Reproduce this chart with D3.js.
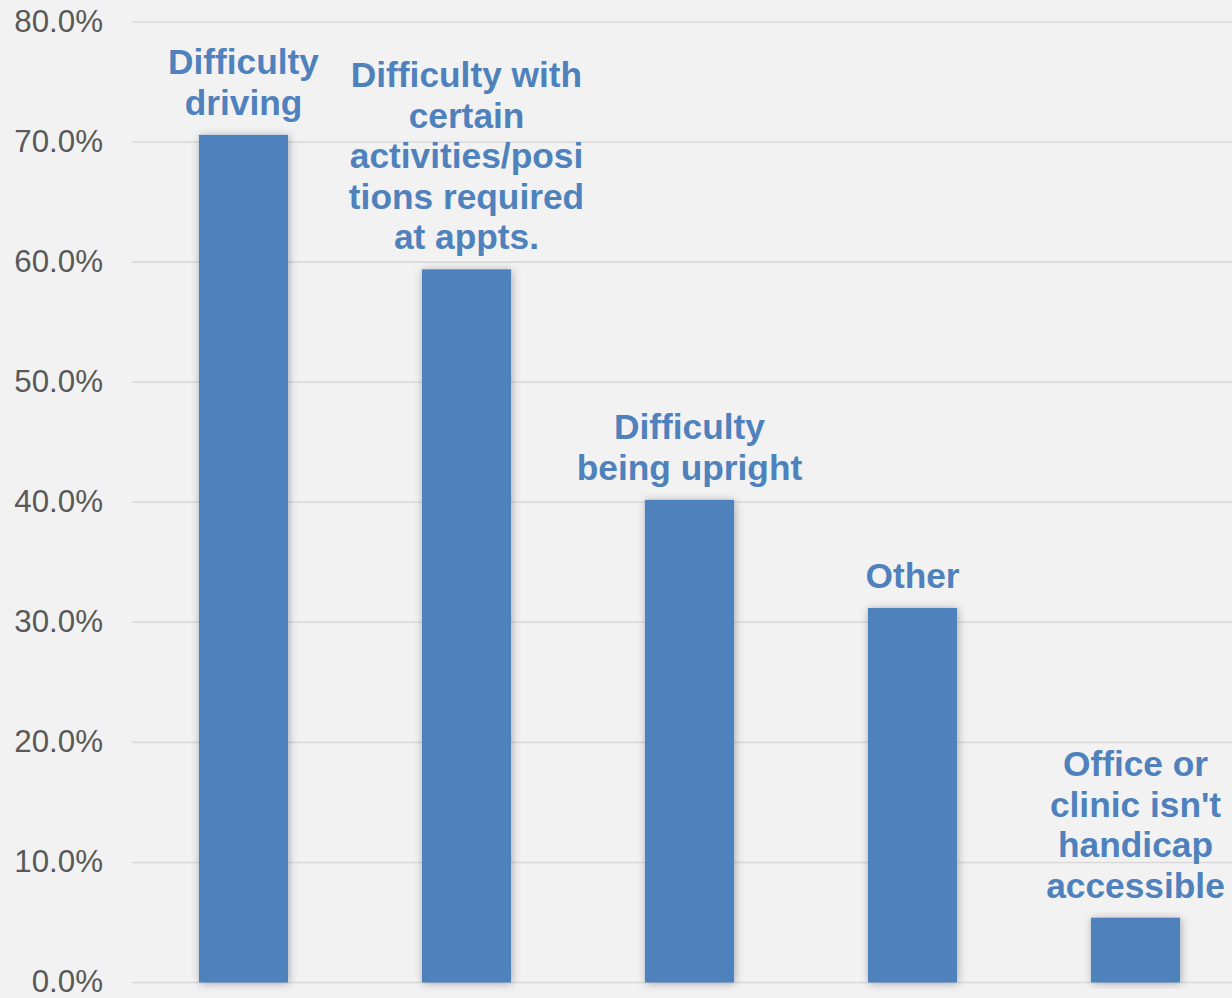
<!DOCTYPE html>
<html>
<head>
<meta charset="utf-8">
<script src="https://cdn.jsdelivr.net/npm/d3@7"></script>
<style>
  html, body { margin: 0; padding: 0; background: #F2F2F2; }
  svg { display: block; }
</style>
</head>
<body>
<svg id="chart" width="1232" height="998"></svg>
<script>
// Barriers to attending appointments (share of respondents, %)
const categories = [
  "Difficulty driving",
  "Difficulty with certain activities/positions required at appts.",
  "Difficulty being upright",
  "Other",
  "Office or clinic isn't handicap accessible"
];
const values = [70.6, 59.4, 40.2, 31.2, 5.4];
const labelLines = [
  ["Difficulty", "driving"],
  ["Difficulty with", "certain", "activities/posi", "tions required", "at appts."],
  ["Difficulty", "being upright"],
  ["Other"],
  ["Office or", "clinic isn't", "handicap", "accessible"]
];
const yTicks = [0, 10, 20, 30, 40, 50, 60, 70, 80];

const svg = d3.select("#chart");
const W = 1232, H = 998;
const plotLeft = 132, plotRight = 1247;
const blue = "#4F81BD";

svg.append("rect").attr("width", W).attr("height", H).attr("fill", "#F2F2F2");

const defs = svg.append("defs");
const shadow = defs.append("filter").attr("id", "barShadow")
  .attr("x", "-30%").attr("y", "-10%").attr("width", "160%").attr("height", "120%");
shadow.append("feDropShadow")
  .attr("dx", 1).attr("dy", 1).attr("stdDeviation", 4)
  .attr("flood-color", "#000").attr("flood-opacity", 0.3);

const x = d3.scaleBand().domain(categories).range([plotLeft, plotRight])
  .paddingInner(0.6).paddingOuter(0.3);
const y = d3.scaleLinear().domain([0, 80]).range([982.5, 22]);

// gridlines
svg.append("g").selectAll("line").data(yTicks).join("line")
  .attr("x1", plotLeft).attr("x2", W)
  .attr("y1", d => y(d)).attr("y2", d => y(d))
  .attr("stroke", "#D9D9D9").attr("stroke-width", 1.6);

// y axis labels
const yAxis = d3.axisLeft(y).tickValues(yTicks).tickSize(0).tickPadding(0)
  .tickFormat(d => d3.format(".1f")(d) + "%");
const gy = svg.append("g").attr("transform", "translate(103,0)").call(yAxis);
gy.select(".domain").remove();
gy.selectAll("text")
  .attr("font-family", "Liberation Sans, Arial, sans-serif")
  .attr("font-size", 31.3).attr("fill", "#595959").attr("dy", "0.3em");

// bars
svg.append("g").selectAll("rect").data(values).join("rect")
  .attr("x", (d, i) => x(categories[i]))
  .attr("width", x.bandwidth())
  .attr("y", d => y(d))
  .attr("height", d => y(0) - y(d))
  .attr("fill", blue)
  .attr("filter", "url(#barShadow)");

// category labels above bars
const lineGap = 40.5;
const lbl = svg.append("g")
  .attr("font-family", "Liberation Sans, Arial, sans-serif")
  .attr("font-size", 35.3).attr("font-weight", "bold")
  .attr("fill", blue).attr("text-anchor", "middle");
values.forEach((v, i) => {
  const lines = labelLines[i];
  const cx = x(categories[i]) + x.bandwidth() / 2;
  const lastBase = y(v) - 20;
  const t = lbl.append("text");
  lines.forEach((ln, j) => {
    t.append("tspan").attr("x", cx)
      .attr("y", lastBase - (lines.length - 1 - j) * lineGap)
      .text(ln);
  });
});
</script>
</body>
</html>
